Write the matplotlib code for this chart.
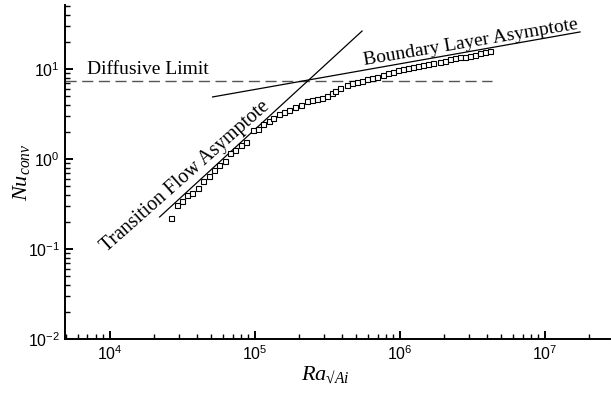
import matplotlib
matplotlib.use("Agg")
import matplotlib.pyplot as plt
from matplotlib.ticker import FuncFormatter, LogLocator, NullFormatter
import numpy as np

plt.rcParams['mathtext.fontset'] = 'custom'
plt.rcParams['mathtext.rm'] = 'Liberation Serif'
plt.rcParams['mathtext.it'] = 'Liberation Serif:italic'
plt.rcParams['mathtext.sf'] = 'Liberation Sans'

# data
ra = [2.63e4, 2.88e4, 3.12e4, 3.41e4, 3.69e4, 4.03e4, 4.40e4, 4.79e4, 5.21e4, 5.67e4,
      6.18e4, 6.72e4, 7.31e4, 7.97e4, 8.71e4, 9.64e4, 1.049e5, 1.141e5, 1.243e5, 1.337e5,
      1.457e5, 1.585e5, 1.725e5, 1.897e5, 2.066e5, 2.273e5, 2.46e5, 2.665e5, 2.884e5, 3.12e5,
      3.38e5, 3.56e5, 3.86e5, 4.29e5, 4.65e5, 5.03e5, 5.44e5, 5.89e5, 6.38e5, 6.91e5,
      7.67e5, 8.31e5, 8.99e5, 9.73e5, 1.054e6, 1.141e6, 1.235e6, 1.337e6, 1.448e6, 1.567e6,
      1.697e6, 1.887e6, 2.043e6, 2.212e6, 2.395e6, 2.593e6, 2.807e6, 3.04e6, 3.29e6, 3.56e6,
      3.86e6, 4.18e6]
nu = [0.221, 0.308, 0.341, 0.394, 0.419, 0.480, 0.569, 0.647, 0.746, 0.848,
      0.957, 1.180, 1.260, 1.413, 1.546, 2.10, 2.17, 2.45, 2.67, 2.88,
      3.14, 3.33, 3.53, 3.75, 4.01, 4.42, 4.53, 4.64, 4.80, 5.01,
      5.37, 5.69, 6.11, 6.64, 6.94, 7.23, 7.36, 7.68, 7.88, 8.22,
      8.58, 8.95, 9.33, 9.75, 10.0, 10.34, 10.6, 10.9, 11.1, 11.4,
      11.75, 12.05, 12.4, 12.8, 13.15, 13.5, 13.7, 14.05, 14.4, 14.96,
      15.3, 15.96]

trans_ra = [2.2e4, 5.47e5]
trans_nu = [0.227, 26.4]
bl_ra = [5.1e4, 1.74e7]
bl_nu = [4.89, 25.8]
diff_ra = [4.9e3, 4.3e6]
diff_nu = [7.3, 7.3]

fig = plt.figure(figsize=(6.11, 3.93), dpi=100)
ax = fig.add_axes([65/611, 54/393, 545/611, 334/393])
ax.set_xscale('log')
ax.set_yscale('log')
ax.set_xlim(4900, 2.8e7)
ax.set_ylim(0.01, 51.4)

ax.plot(diff_ra, diff_nu, color='#555555', lw=1.0, linestyle=(0, (8, 4)))
ax.plot(trans_ra, trans_nu, color='black', lw=0.9)
ax.plot(bl_ra, bl_nu, color='black', lw=0.9)
ax.plot(ra, nu, linestyle='none', marker='s', markersize=3.6, markerfacecolor='white',
        markeredgecolor='black', markeredgewidth=0.8)

ax.text(7.0e3, 7.9, 'Diffusive Limit', family='Liberation Serif', fontsize=14,
        ha='left', va='bottom')
ax.text(3.29e4, 0.631, 'Transition Flow Asymptote', family='Liberation Serif', fontsize=14.3,
        ha='center', va='center', rotation=41.5, rotation_mode='anchor')
ax.text(3.09e6, 19.9, 'Boundary Layer Asymptote', family='Liberation Serif', fontsize=14,
        ha='center', va='center', rotation=9.6, rotation_mode='anchor')

for s in ['top', 'right']:
    ax.spines[s].set_visible(False)
for s in ['left', 'bottom']:
    ax.spines[s].set_linewidth(1.4)

ax.xaxis.set_major_locator(LogLocator(base=10, numticks=20))
ax.yaxis.set_major_locator(LogLocator(base=10, numticks=20))
ax.xaxis.set_minor_locator(LogLocator(base=10, subs=np.arange(2, 10), numticks=20))
ax.yaxis.set_minor_locator(LogLocator(base=10, subs=np.arange(2, 10), numticks=20))
fmt = FuncFormatter(lambda v, p: r'$\mathsf{10^{%d}}$' % int(round(np.log10(v))))
ax.xaxis.set_major_formatter(fmt)
ax.yaxis.set_major_formatter(fmt)
ax.xaxis.set_minor_formatter(NullFormatter())
ax.yaxis.set_minor_formatter(NullFormatter())
ax.tick_params(which='both', direction='in', top=False, right=False, labelsize=11.5, width=1.0)
ax.tick_params(which='major', length=6, width=1.4)
ax.tick_params(which='minor', length=3.5)

ax.set_xlabel('$Ra_{\u221aAi}$', fontsize=16)
ax.set_ylabel(r'$Nu_{conv}$', fontsize=16)
ax.xaxis.set_label_coords(0.477, -0.078)
ax.yaxis.set_label_coords(-0.06, 0.5)

fig.savefig('out.png', dpi=100)
